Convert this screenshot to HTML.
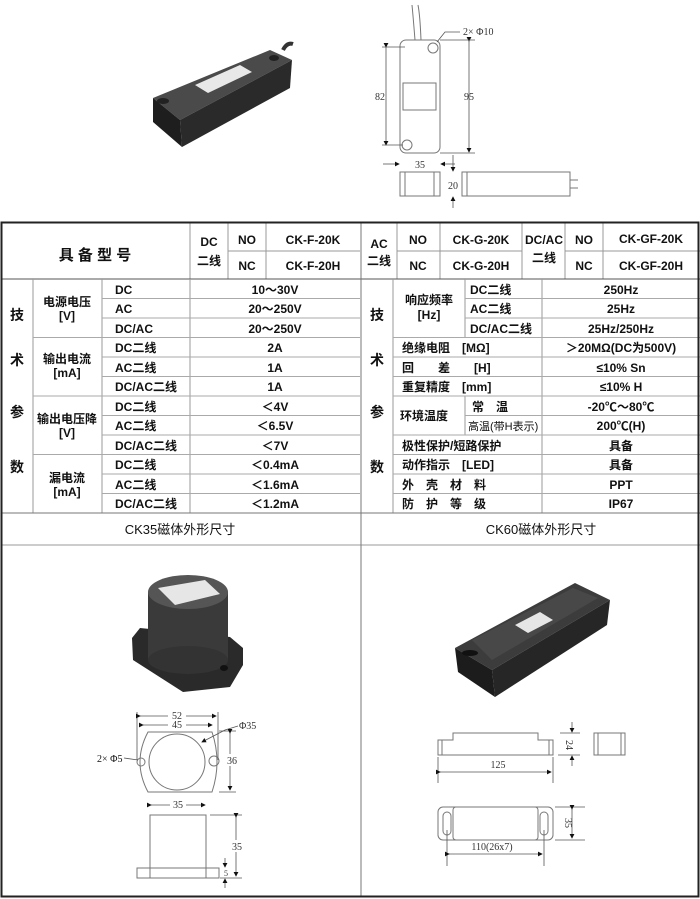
<!DOCTYPE html>
<html><head><meta charset="utf-8"><style>
html,body{margin:0;padding:0;background:#fff;}
svg{display:block;}
text{font-family:"Liberation Sans","Noto Sans CJK SC",sans-serif;fill:#111;}
.t{font-size:12px;font-weight:bold;}
.c{font-size:13px;}
.d{font-family:"Liberation Serif","Noto Serif CJK SC",serif;font-size:10px;fill:#333;}
.ln{stroke:#777;stroke-width:1;fill:none;}
.dl{stroke:#555;stroke-width:0.8;fill:none;}
</style></head><body>
<svg width="700" height="899" viewBox="0 0 700 899" xmlns="http://www.w3.org/2000/svg">
<defs><marker id="a" markerWidth="6" markerHeight="6" refX="5" refY="3" orient="auto"><path d="M0,0L6,3L0,6z" fill="#111"/></marker></defs>

<!-- top-left photo sensor -->
<path d="M283,50 q4,-8 10,-6" stroke="#333" stroke-width="4" fill="none"/>
<polygon points="153,98 270,50 292,60 180,120" fill="#4a4a4a"/>
<polygon points="180,120 292,60 290,88 182,147" fill="#2a2a2a"/>
<polygon points="153,98 180,120 182,147 153,122" fill="#1e1e1e"/>
<polygon points="195,85 240,65 252,72 208,93" fill="#e8e8e8"/>
<ellipse cx="163" cy="101" rx="6" ry="3" fill="#222"/>
<ellipse cx="274" cy="58" rx="5" ry="3" fill="#222"/>

<!-- top right line drawing -->
<path d="M415,40 Q413,15 412,5" stroke="#777" stroke-width="1" fill="none"/>
<path d="M421,40 Q420,15 418,5" stroke="#777" stroke-width="1" fill="none"/>
<rect x="400" y="40" width="40" height="113" rx="6" class="ln"/>
<rect x="403" y="83" width="33" height="27" class="ln"/>
<circle cx="433" cy="48" r="5" class="ln"/>
<circle cx="407" cy="145" r="5" class="ln"/>
<path d="M437,42 L445,32 L460,32" class="dl"/>
<text x="463" y="35" class="d">2× Φ10</text>
<line x1="386" y1="47" x2="386" y2="145" class="dl" marker-start="url(#a)" marker-end="url(#a)"/>
<line x1="382" y1="47" x2="405" y2="47" class="dl"/><line x1="382" y1="145" x2="403" y2="145" class="dl"/>
<text x="380" y="100" class="d" text-anchor="middle">82</text>
<line x1="469" y1="41" x2="469" y2="152" class="dl" marker-start="url(#a)" marker-end="url(#a)"/>
<line x1="440" y1="40" x2="475" y2="40" class="dl"/><line x1="440" y1="153" x2="475" y2="153" class="dl"/>
<text x="469" y="100" class="d" text-anchor="middle">95</text>
<line x1="383" y1="164" x2="399" y2="164" class="dl" marker-end="url(#a)"/>
<line x1="455" y1="164" x2="441" y2="164" class="dl" marker-end="url(#a)"/>
<text x="420" y="168" class="d" text-anchor="middle">35</text>
<line x1="453" y1="155" x2="453" y2="171" class="dl" marker-end="url(#a)"/>
<line x1="453" y1="208" x2="453" y2="197" class="dl" marker-end="url(#a)"/>
<text x="453" y="189" class="d" text-anchor="middle">20</text>
<rect x="400" y="172" width="40" height="24" class="ln"/><line x1="405" y1="172" x2="405" y2="196" class="ln"/><line x1="434" y1="172" x2="434" y2="196" class="ln"/>
<rect x="462" y="172" width="108" height="24" class="ln"/><line x1="467" y1="172" x2="467" y2="196" class="ln"/>
<line x1="570" y1="180" x2="578" y2="180" class="ln"/><line x1="570" y1="188" x2="578" y2="188" class="ln"/>

<!-- table -->
<g stroke="#999" stroke-width="1" fill="none">
<line x1="190" y1="223" x2="190" y2="279"/><line x1="228" y1="223" x2="228" y2="279"/><line x1="266" y1="223" x2="266" y2="279"/>
<line x1="228" y1="251" x2="360" y2="251"/>
<line x1="397" y1="223" x2="397" y2="279"/><line x1="440" y1="223" x2="440" y2="279"/><line x1="522" y1="223" x2="522" y2="279"/>
<line x1="565" y1="223" x2="565" y2="279"/><line x1="603" y1="223" x2="603" y2="279"/>
<line x1="397" y1="251" x2="522" y2="251"/><line x1="565" y1="251" x2="700" y2="251"/>
<line x1="2" y1="279" x2="700" y2="279" stroke="#555"/>
<line x1="33" y1="279" x2="33" y2="513"/><line x1="102" y1="279" x2="102" y2="513"/><line x1="190" y1="279" x2="190" y2="513"/>
<line x1="393" y1="279" x2="393" y2="513"/><line x1="542" y1="279" x2="542" y2="513"/>
<line x1="465" y1="279" x2="465" y2="337"/><line x1="465" y1="396" x2="465" y2="435"/>
</g>
<g stroke="#aaa" stroke-width="1">
<line x1="102" y1="298.5" x2="360" y2="298.5"/><line x1="102" y1="318" x2="360" y2="318"/>
<line x1="33" y1="337.5" x2="360" y2="337.5"/>
<line x1="102" y1="357" x2="360" y2="357"/><line x1="102" y1="376.5" x2="360" y2="376.5"/>
<line x1="33" y1="396" x2="360" y2="396"/>
<line x1="102" y1="415.5" x2="360" y2="415.5"/><line x1="102" y1="435" x2="360" y2="435"/>
<line x1="33" y1="454.5" x2="360" y2="454.5"/>
<line x1="102" y1="474" x2="360" y2="474"/><line x1="102" y1="493.5" x2="360" y2="493.5"/>
<line x1="465" y1="298.5" x2="700" y2="298.5"/><line x1="465" y1="318" x2="700" y2="318"/>
<line x1="393" y1="337.5" x2="700" y2="337.5"/><line x1="393" y1="357" x2="700" y2="357"/><line x1="393" y1="376.5" x2="700" y2="376.5"/>
<line x1="393" y1="396" x2="700" y2="396"/><line x1="465" y1="415.5" x2="700" y2="415.5"/>
<line x1="393" y1="435" x2="700" y2="435"/><line x1="393" y1="454.5" x2="700" y2="454.5"/><line x1="393" y1="474" x2="700" y2="474"/><line x1="393" y1="493.5" x2="700" y2="493.5"/>
</g>
<line x1="2" y1="513" x2="700" y2="513" stroke="#777"/>
<line x1="2" y1="545" x2="700" y2="545" stroke="#999"/>
<line x1="361" y1="223" x2="361" y2="897" stroke="#777"/>
<rect x="1.5" y="222.5" width="697" height="674" fill="none" stroke="#222" stroke-width="2"/>

<!-- header text -->
<text x="95" y="260" class="t" style="font-size:15px" text-anchor="middle">具 备 型 号</text>
<text x="209" y="246" class="t" text-anchor="middle">DC</text><text x="209" y="265" class="t" text-anchor="middle">二线</text>
<text x="247" y="244" class="t" text-anchor="middle">NO</text><text x="247" y="270" class="t" text-anchor="middle">NC</text>
<text x="313" y="244" class="t" text-anchor="middle">CK-F-20K</text><text x="313" y="270" class="t" text-anchor="middle">CK-F-20H</text>
<text x="379" y="248" class="t" text-anchor="middle">AC</text><text x="379" y="265" class="t" text-anchor="middle">二线</text>
<text x="418" y="244" class="t" text-anchor="middle">NO</text><text x="418" y="270" class="t" text-anchor="middle">NC</text>
<text x="481" y="244" class="t" text-anchor="middle">CK-G-20K</text><text x="481" y="270" class="t" text-anchor="middle">CK-G-20H</text>
<text x="544" y="244" class="t" text-anchor="middle">DC/AC</text><text x="544" y="262" class="t" text-anchor="middle">二线</text>
<text x="584" y="244" class="t" text-anchor="middle">NO</text><text x="584" y="270" class="t" text-anchor="middle">NC</text>
<text x="651" y="243" class="t" text-anchor="middle">CK-GF-20K</text><text x="651" y="270" class="t" text-anchor="middle">CK-GF-20H</text>

<!-- left data -->
<g class="t" text-anchor="middle" style="font-size:14px">
<text x="17" y="320">技</text><text x="17" y="365">术</text><text x="17" y="417">参</text><text x="17" y="472">数</text>
<text x="377" y="320">技</text><text x="377" y="365">术</text><text x="377" y="417">参</text><text x="377" y="472">数</text>
</g>
<g class="t" text-anchor="middle">
<text x="67" y="306">电源电压</text><text x="67" y="320">[V]</text>
<text x="67" y="363">输出电流</text><text x="67" y="377">[mA]</text>
<text x="67" y="423">输出电压降</text><text x="67" y="437">[V]</text>
<text x="67" y="482">漏电流</text><text x="67" y="496">[mA]</text>
</g>
<g class="t">
<text x="115" y="294">DC</text><text x="115" y="313">AC</text><text x="115" y="333">DC/AC</text>
<text x="115" y="352">DC二线</text><text x="115" y="372">AC二线</text><text x="115" y="391">DC/AC二线</text>
<text x="115" y="411">DC二线</text><text x="115" y="430">AC二线</text><text x="115" y="450">DC/AC二线</text>
<text x="115" y="469">DC二线</text><text x="115" y="489">AC二线</text><text x="115" y="508">DC/AC二线</text>
</g>
<g class="t" text-anchor="middle">
<text x="275" y="294">10～30V</text><text x="275" y="313">20～250V</text><text x="275" y="333">20～250V</text>
<text x="275" y="352">2A</text><text x="275" y="372">1A</text><text x="275" y="391">1A</text>
<text x="275" y="411">＜4V</text><text x="275" y="430">＜6.5V</text><text x="275" y="450">＜7V</text>
<text x="275" y="469">＜0.4mA</text><text x="275" y="489">＜1.6mA</text><text x="275" y="508">＜1.2mA</text>
</g>
<!-- right data -->
<g class="t">
<text x="429" y="304" text-anchor="middle">响应频率</text><text x="429" y="319" text-anchor="middle">[Hz]</text>
<text x="470" y="294">DC二线</text><text x="470" y="313">AC二线</text><text x="470" y="333">DC/AC二线</text>
<text x="402" y="352">绝缘电阻　[MΩ]</text>
<text x="402" y="372">回　　差　　[H]</text>
<text x="402" y="391">重复精度　[mm]</text>
<text x="400" y="420">环境温度</text>
<text x="472" y="411">常　温</text>
<text x="468" y="430" style="font-size:11px;font-weight:normal">高温(带H表示)</text>
<text x="402" y="450">极性保护/短路保护</text>
<text x="402" y="469">动作指示　[LED]</text>
<text x="402" y="489">外　壳　材　料</text>
<text x="402" y="508">防　护　等　级</text>
</g>
<g class="t" text-anchor="middle">
<text x="621" y="294">250Hz</text><text x="621" y="313">25Hz</text><text x="621" y="333">25Hz/250Hz</text>
<text x="621" y="352">＞20MΩ(DC为500V)</text><text x="621" y="372">≤10% Sn</text><text x="621" y="391">≤10% H</text>
<text x="621" y="411">-20℃～80℃</text><text x="621" y="430">200℃(H)</text>
<text x="621" y="450">具备</text><text x="621" y="469">具备</text><text x="621" y="489">PPT</text><text x="621" y="508">IP67</text>
</g>
<text x="180" y="534" class="c" text-anchor="middle">CK35磁体外形尺寸</text>
<text x="541" y="534" class="c" text-anchor="middle">CK60磁体外形尺寸</text>

<!-- CK35 photo -->
<polygon points="132,638 140,628 230,637 243,648 243,665 230,687 183,692 133,660" fill="#2a2a2a"/>
<rect x="148" y="592" width="80" height="68" fill="#3a3a3a"/>
<ellipse cx="188" cy="660" rx="40" ry="14" fill="#333"/>
<ellipse cx="188" cy="592" rx="40" ry="17" fill="#555"/>
<polygon points="158,588 205,580 220,594 175,605" fill="#e6e6e6"/>
<ellipse cx="224" cy="668" rx="4" ry="3" fill="#111"/>

<!-- CK35 top view -->
<path d="M148,732 L212,732 Q222,762 212,792 L148,792 Q132,762 148,732 Z" class="ln"/>
<circle cx="177" cy="762" r="28" class="ln"/>
<circle cx="141" cy="762" r="4" class="ln"/><circle cx="214" cy="761" r="5" class="ln"/>
<line x1="137" y1="712" x2="137" y2="760" class="dl"/><line x1="218" y1="712" x2="218" y2="760" class="dl"/>
<line x1="140" y1="716" x2="216" y2="716" class="dl" marker-start="url(#a)" marker-end="url(#a)"/>
<rect x="168" y="710" width="18" height="10" fill="#fff"/><text x="177" y="719" class="d" text-anchor="middle">52</text>
<line x1="143" y1="725" x2="212" y2="725" class="dl" marker-start="url(#a)" marker-end="url(#a)"/>
<rect x="168" y="719" width="18" height="10" fill="#fff"/><text x="177" y="728" class="d" text-anchor="middle">45</text>
<path d="M238,726 L225,730 L202,742" class="dl" marker-end="url(#a)"/>
<text x="239" y="729" class="d">Φ35</text>
<line x1="124" y1="758" x2="138" y2="760" class="dl"/>
<text x="97" y="762" class="d" style="fill:#111">2× Φ5</text>
<line x1="219" y1="731" x2="236" y2="731" class="dl"/><line x1="219" y1="792" x2="236" y2="792" class="dl"/>
<line x1="230" y1="733" x2="230" y2="790" class="dl" marker-start="url(#a)" marker-end="url(#a)"/>
<rect x="225" y="754" width="12" height="12" fill="#fff"/><text x="232" y="764" class="d" text-anchor="middle">36</text>
<!-- CK35 side view -->
<rect x="150" y="815" width="56" height="53" class="ln"/>
<rect x="137" y="868" width="82" height="10" class="ln"/>
<line x1="150" y1="868" x2="150" y2="878" class="ln"/><line x1="206" y1="868" x2="206" y2="878" class="ln"/>
<line x1="151" y1="805" x2="205" y2="805" class="dl" marker-start="url(#a)" marker-end="url(#a)"/>
<rect x="170" y="799" width="16" height="11" fill="#fff"/><text x="178" y="808" class="d" text-anchor="middle">35</text>
<line x1="210" y1="815" x2="242" y2="815" class="dl"/><line x1="220" y1="878" x2="242" y2="878" class="dl"/>
<line x1="236" y1="817" x2="236" y2="876" class="dl" marker-start="url(#a)" marker-end="url(#a)"/>
<rect x="230" y="840" width="12" height="12" fill="#fff"/><text x="237" y="850" class="d" text-anchor="middle">35</text>
<line x1="225" y1="858" x2="225" y2="867" class="dl" marker-end="url(#a)"/>
<line x1="225" y1="888" x2="225" y2="879" class="dl" marker-end="url(#a)"/>
<text x="226" y="876" class="d" text-anchor="middle" style="font-size:8px">5</text>

<!-- CK60 photo -->
<polygon points="455,648 575,583 610,600 492,670" fill="#3c3c3c"/>
<polygon points="472,640 573,588 598,598 492,660" fill="#484848"/>
<polygon points="492,670 610,600 607,625 495,697" fill="#262626"/>
<polygon points="455,648 492,670 495,697 458,672" fill="#1c1c1c"/>
<polygon points="515,625 540,612 553,620 528,633" fill="#e6e6e6"/>
<ellipse cx="470" cy="653" rx="8" ry="3" fill="#111"/>

<!-- CK60 side view -->
<path d="M438,740 L453,740 L453,733 L538,733 L538,740 L553,740 L553,755 L438,755 Z" class="ln"/>
<line x1="442" y1="740" x2="442" y2="755" class="ln"/><line x1="549" y1="740" x2="549" y2="755" class="ln"/>
<rect x="594" y="733" width="31" height="22" class="ln"/><line x1="598" y1="733" x2="598" y2="755" class="ln"/><line x1="621" y1="733" x2="621" y2="755" class="ln"/>
<line x1="560" y1="733" x2="580" y2="733" class="dl"/><line x1="558" y1="755" x2="580" y2="755" class="dl"/>
<line x1="572" y1="722" x2="572" y2="732" class="dl" marker-end="url(#a)"/>
<line x1="572" y1="766" x2="572" y2="756" class="dl" marker-end="url(#a)"/>
<text x="566" y="745" class="d" transform="rotate(90 566 745)" text-anchor="middle">24</text>
<line x1="438" y1="757" x2="438" y2="783" class="dl"/><line x1="553" y1="757" x2="553" y2="783" class="dl"/>
<line x1="440" y1="772" x2="551" y2="772" class="dl" marker-start="url(#a)" marker-end="url(#a)"/>
<text x="498" y="768" class="d" text-anchor="middle">125</text>
<!-- CK60 top view -->
<rect x="438" y="807" width="115" height="33" rx="5" class="ln"/>
<rect x="453" y="807" width="85" height="33" rx="3" class="ln"/>
<rect x="443" y="812" width="8" height="23" rx="4" class="ln"/>
<rect x="540" y="812" width="8" height="23" rx="4" class="ln"/>
<line x1="447" y1="830" x2="447" y2="866" class="dl"/><line x1="544" y1="830" x2="544" y2="866" class="dl"/>
<line x1="449" y1="854" x2="542" y2="854" class="dl" marker-start="url(#a)" marker-end="url(#a)"/>
<text x="492" y="850" class="d" text-anchor="middle">110(26x7)</text>
<line x1="555" y1="807" x2="585" y2="807" class="dl"/><line x1="555" y1="840" x2="585" y2="840" class="dl"/>
<line x1="572" y1="809" x2="572" y2="838" class="dl" marker-start="url(#a)" marker-end="url(#a)"/>
<text x="565" y="823" class="d" transform="rotate(90 565 823)" text-anchor="middle">35</text>
</svg>
</body></html>
